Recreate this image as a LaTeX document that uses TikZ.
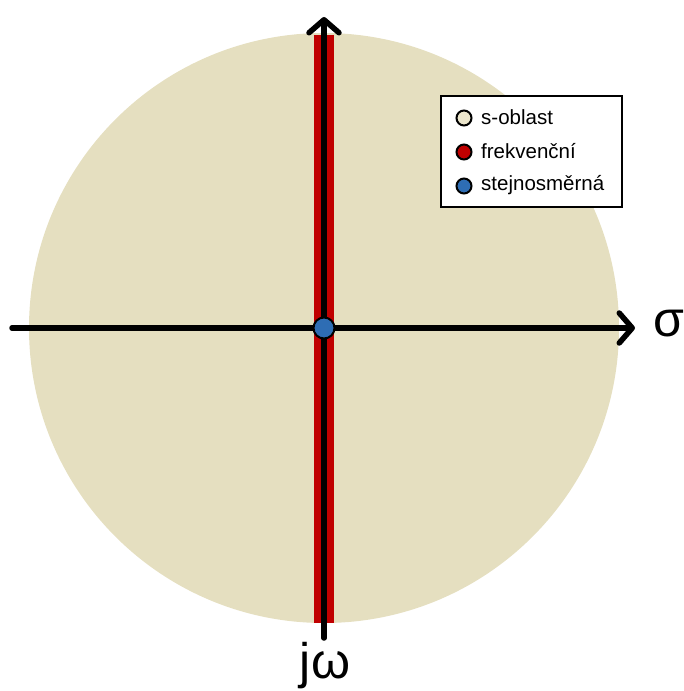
\documentclass[tikz,border=0pt]{standalone}
\usepackage{fontspec}
\setmainfont{Liberation Sans}
\usetikzlibrary{arrows.meta}
\definecolor{beige}{HTML}{E5DFC0}
\definecolor{redband}{HTML}{C00000}
\definecolor{bluedot}{HTML}{2E6DB4}
\definecolor{legbeige}{HTML}{ECE6CC}
\tikzset{
  axis/.style={line width=5.5pt, line cap=round, -{Straight Barb[length=13pt,width=30pt,line cap=round,line join=round]}},
  legdot/.style={circle, draw=black, line width=2pt, minimum size=15pt, inner sep=0pt},
  legtext/.style={anchor=west, font=\fontsize{20.5}{23}\selectfont, inner sep=0pt},
  bigtext/.style={font=\fontsize{50}{54}\selectfont, inner sep=0pt}
}
\begin{document}
\begin{tikzpicture}[x=1pt,y=-1pt]
\useasboundingbox (0,0) rectangle (683,691);
\fill[beige] (324,328) circle (295);
\fill[redband] (314,35) rectangle (334,623);
\coordinate (bot) at (324,638);
\coordinate (top) at (324,17);
\coordinate (left) at (12,328);
\coordinate (right) at (635,328);
\draw[axis] (bot) -- (top);
\draw[axis] (left) -- (right);
\node[circle, fill=bluedot, draw=black, line width=2pt, minimum size=21pt, inner sep=0pt] (origin) at (324,328) {};
\node[bigtext, anchor=west] (sigma) at (653,324) {σ};
\node[bigtext, anchor=north] (jw) at (325,642) {jω};
% legend
\node[draw=black, line width=2pt, fill=white, minimum width=181pt, minimum height=111pt, inner sep=0pt] (legend) at (531.5,151.5) {};
\node[legdot, fill=legbeige] (d1) at (464,118) {};
\node[legdot, fill=redband] (d2) at (464,152) {};
\node[legdot, fill=bluedot] (d3) at (464,186) {};
\node[legtext] (t1) at (481,117) {s-oblast};
\node[legtext] (t2) at (481,151) {frekvenční};
\node[legtext] (t3) at (481,185) {stejnosměrná};
\end{tikzpicture}
\end{document}
